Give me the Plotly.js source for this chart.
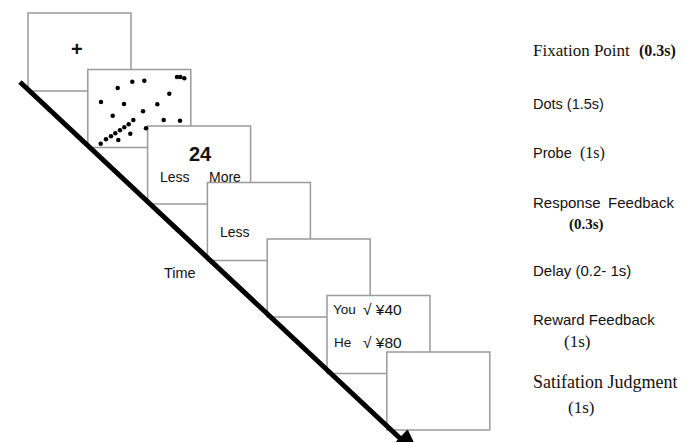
<!DOCTYPE html>
<html>
<head>
<meta charset="utf-8">
<script src="https://cdn.plot.ly/plotly-3.0.1.min.js"></script>
<style>html,body{margin:0;padding:0;background:#fff;}#chart{width:692px;height:442px;}</style>
</head>
<body>
<div id="chart"></div>
<script>
// ---- data ----
const stageNames = ['Fixation Point', 'Dots', 'Probe', 'Response Feedback', 'Delay', 'Reward Feedback', 'Satifation Judgment'];
const stageDurations = ['(0.3s)', '(1.5s)', '(1s)', '(0.3s)', '(0.2- 1s)', '(1s)', '(1s)'];
const screenTexts = ['+', '24', 'Less', 'More', 'You', 'He', '√ ¥40', '√ ¥80'];
const timeLabel = 'Time';
// dot display (screen 2), image coordinates
const dotsX = [132.3,144.3,117.7,177,180.3,184.3,169.3,101,124,157.3,112.7,143,163.7,180,100.7,106,111,115.3,120,124.3,128.7,133.3,118.3,130.3,146];
const dotsY = [81.7,80.7,88,77,77,78.3,93.7,102,104,104.3,115.7,111.3,120,120.7,143.7,139.3,136.3,133.3,130.3,127.3,124.3,120,140,133.7,128.3];

// ---- layout helpers ----
const SANS = 'Liberation Sans, Arial, sans-serif';
const SERIF = 'Liberation Serif, Times New Roman, serif';
const BOX_W = 103, BOX_H = 78, X0 = 28, Y0 = 13, DX = 59.8, DY = 56.5;

const shapes = [];
stageNames.forEach((s, i) => {
  const x0 = X0 + i * DX, y0 = Y0 + i * DY;
  shapes.push({type: 'rect', xref: 'x', yref: 'y', x0: x0, x1: x0 + BOX_W, y0: y0, y1: y0 + BOX_H,
    fillcolor: '#ffffff', line: {color: '#9a9a9a', width: 1.5}, layer: 'below'});
});
// time arrow
shapes.push({type: 'line', xref: 'x', yref: 'y', x0: 20, y0: 82, x1: 404, y1: 442, line: {color: '#000', width: 5}, layer: 'above'});
shapes.push({type: 'path', xref: 'x', yref: 'y', path: 'M 417 450 L 396.5 441.5 L 407.5 430 Z', fillcolor: '#000', line: {color: '#000', width: 1}, layer: 'above'});

function ann(text, x, y, font, size, opts) {
  return Object.assign({text: text, x: x, y: y, xref: 'x', yref: 'y', showarrow: false,
    xanchor: 'left', yanchor: 'middle', font: {family: font, size: size, color: '#111'}}, opts || {});
}

const annotations = [
  ann('<b>' + screenTexts[0] + '</b>', 77, 49, SANS, 20, {xanchor: 'center'}),
  ann('<b>' + screenTexts[1] + '</b>', 200, 154, SANS, 20, {xanchor: 'center'}),
  ann(screenTexts[2], 158, 177, SANS, 14),
  ann(screenTexts[3], 207, 177, SANS, 14),
  ann(screenTexts[2], 218, 232, SANS, 14),
  ann(screenTexts[4], 331, 309, SANS, 13.5),
  ann(screenTexts[6], 361, 309, SANS, 15.5),
  ann(screenTexts[5], 332, 342, SANS, 13.5),
  ann(screenTexts[7], 361, 342, SANS, 15.5),
  ann(timeLabel, 162, 273, SANS, 14.5),
  // right-hand labels
  ann(stageNames[0], 531, 50, SERIF, 17),
  ann('<b>' + stageDurations[0] + '</b>', 637, 51, SERIF, 16),
  ann(stageNames[1] + ' ' + stageDurations[1], 531, 104, SANS, 14.5),
  ann(stageNames[2], 531, 153, SANS, 14.5),
  ann(stageDurations[2], 578, 153, SERIF, 16),
  ann(stageNames[3].replace(' ', '\u2002'), 531, 202, SANS, 15),
  ann('<b>' + stageDurations[3] + '</b>', 567, 224, SERIF, 15),
  ann(stageNames[4] + ' ' + stageDurations[4], 531, 270, SANS, 15),
  ann(stageNames[5], 531, 319, SANS, 15),
  ann(stageDurations[5], 562, 341, SERIF, 17),
  ann(stageNames[6], 531, 382, SERIF, 18),
  ann(stageDurations[6], 566, 407, SERIF, 17)
];

const data = [{
  type: 'scatter', mode: 'markers', x: dotsX, y: dotsY,
  marker: {color: '#000', size: 4.5}, hoverinfo: 'skip', showlegend: false
}];

const layout = {
  width: 692, height: 442,
  margin: {l: 0, r: 0, t: 0, b: 0},
  paper_bgcolor: '#fff', plot_bgcolor: '#fff',
  xaxis: {range: [0, 692], visible: false, fixedrange: true},
  yaxis: {range: [442, 0], visible: false, fixedrange: true},
  shapes: shapes, annotations: annotations, showlegend: false
};

Plotly.newPlot('chart', data, layout, {staticPlot: true, displayModeBar: false});
</script>
</body>
</html>
